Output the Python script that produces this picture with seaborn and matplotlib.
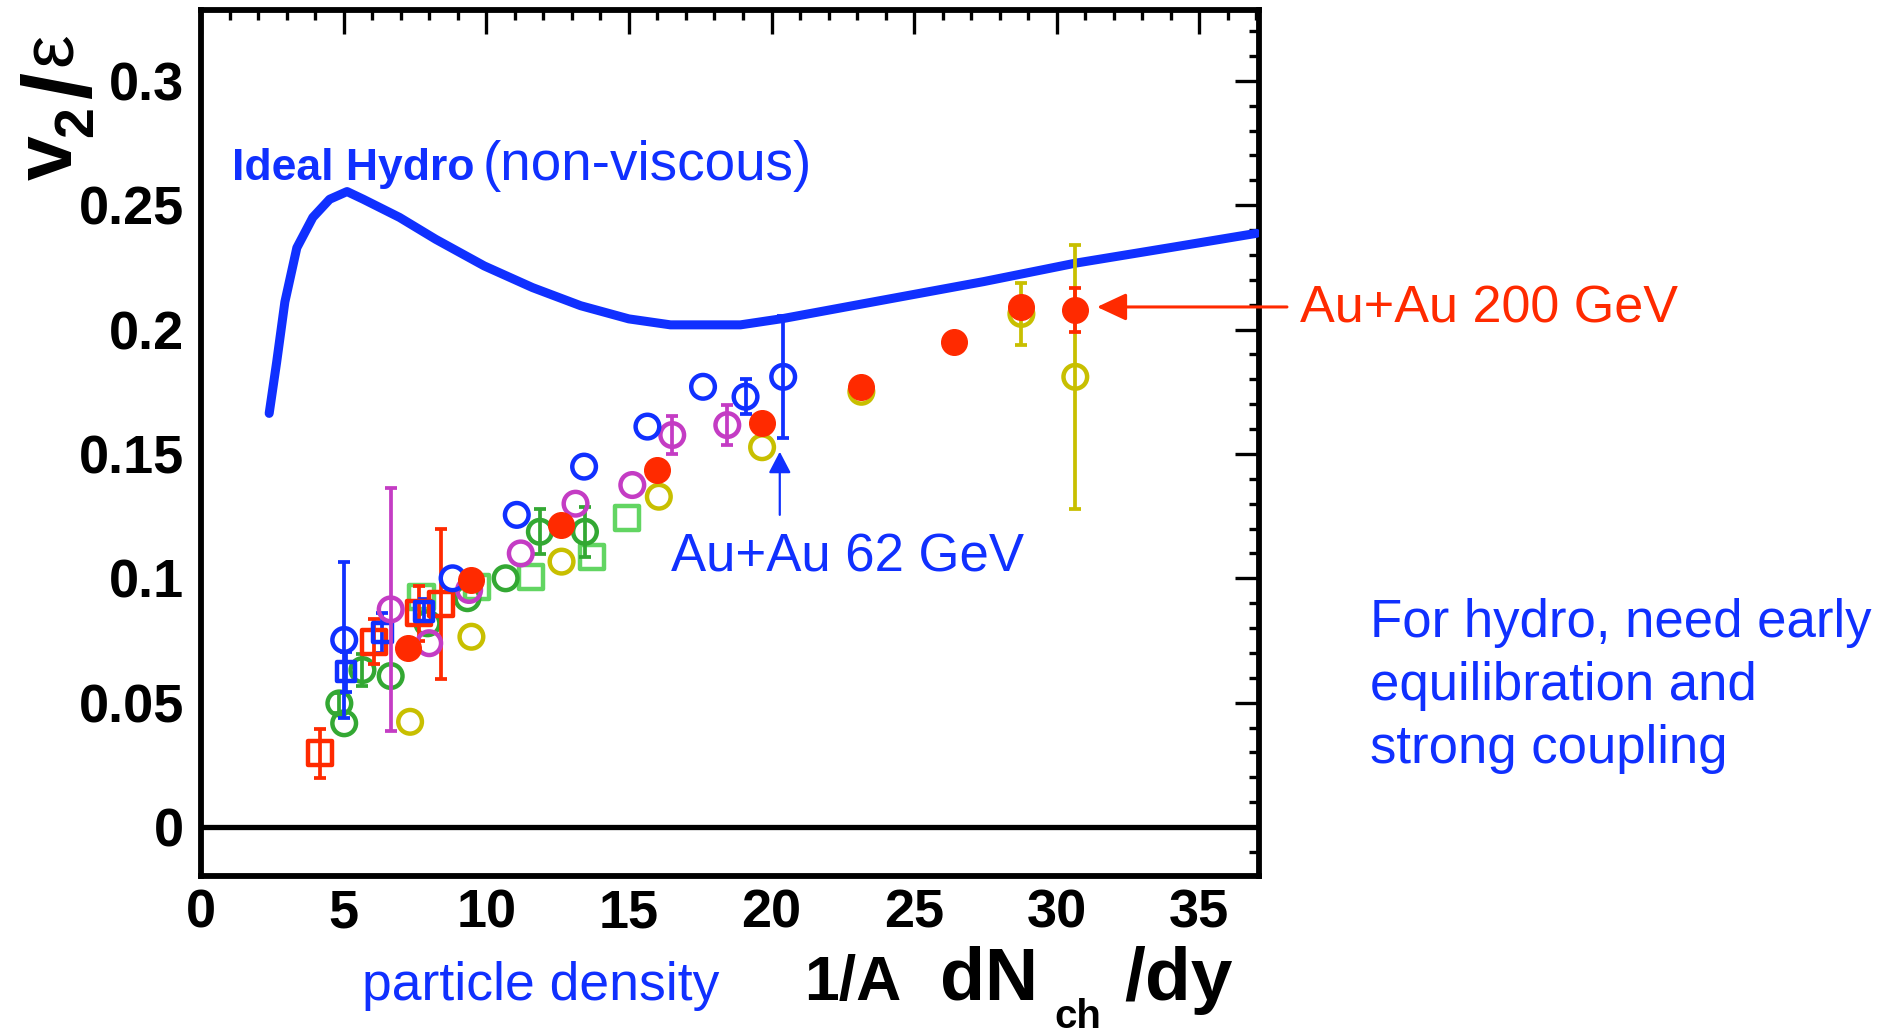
import matplotlib
matplotlib.use("Agg")
import matplotlib.pyplot as plt
import seaborn as sns
import pandas as pd
from matplotlib.ticker import MultipleLocator

# ---------------- data ----------------
hydro_x = [2.39, 2.65, 2.94, 3.36, 3.92, 4.51, 5.12, 5.69, 6.96, 8.23, 9.93, 11.62,
           13.31, 15.0, 16.46, 18.91, 20.43, 23.93, 27.44, 30.65, 34.0, 37.0]
hydro_y = [0.1663, 0.1867, 0.2111, 0.2329, 0.2451, 0.2524, 0.2555, 0.2524, 0.2451,
           0.2363, 0.2256, 0.2169, 0.2096, 0.2043, 0.2019, 0.2019, 0.2045, 0.2119,
           0.2193, 0.2267, 0.2330, 0.2387]

auau200_x = [7.24, 9.46, 12.61, 16.0, 19.67, 23.15, 26.4, 28.76, 30.65]
auau200_y = [0.0718, 0.0993, 0.1214, 0.1435, 0.1623, 0.177, 0.195, 0.2092, 0.2079]
auau200_e = [0, 0, 0, 0, 0, 0, 0, 0, 0.009]

yellow_x = [7.33, 9.48, 12.64, 16.05, 19.67, 23.15, 28.76, 30.65]
yellow_y = [0.0423, 0.0765, 0.1067, 0.1328, 0.1527, 0.175, 0.2063, 0.181]
yellow_e = [0, 0, 0, 0, 0, 0, 0.0124, 0.053]

auau62_x = [5.02, 8.82, 11.07, 13.43, 15.65, 17.6, 19.09, 20.41]
auau62_y = [0.0752, 0.100, 0.1255, 0.1449, 0.161, 0.177, 0.173, 0.181]
auau62_e = [0.0315, 0, 0, 0, 0, 0, 0.007, 0.0245]

magenta_x = [6.65, 8.0, 9.4, 11.21, 13.13, 15.12, 16.52, 18.45]
magenta_y = [0.0875, 0.0739, 0.0953, 0.110, 0.130, 0.1375, 0.1576, 0.1616]
magenta_e = [0.049, 0, 0, 0, 0, 0, 0.0075, 0.008]

green_x = [4.85, 5.02, 5.66, 6.65, 7.94, 9.34, 10.68, 11.88, 13.46]
green_y = [0.0497, 0.0417, 0.0631, 0.0607, 0.0819, 0.092, 0.100, 0.1187, 0.1187]
green_e = [0.004, 0, 0.0064, 0, 0, 0, 0, 0.009, 0.010]

lgsq_x = [7.73, 9.69, 11.56, 13.72, 14.95]
lgsq_y = [0.0926, 0.0966, 0.1006, 0.1087, 0.1241]
lgsq_e = [0, 0, 0, 0, 0]

redsq_x = [4.17, 6.07, 7.65, 8.41]
redsq_y = [0.0296, 0.0745, 0.0859, 0.0897]
redsq_e = [0.0099, 0.009, 0.011, 0.030]

bluesq_x = [5.08, 6.36, 7.82]
bluesq_y = [0.0624, 0.0781, 0.0866]
bluesq_e = [0.008, 0.008, 0.005]

x_ticks = [0, 5, 10, 15, 20, 25, 30, 35]
x_tick_labels = ["0", "5", "10", "15", "20", "25", "30", "35"]
y_ticks = [0, 0.05, 0.1, 0.15, 0.2, 0.25, 0.3]
y_tick_labels = ["0", "0.05", "0.1", "0.15", "0.2", "0.25", "0.3"]

# ---------------- style ----------------
BLUE = "#1030ff"
RED = "#ff2a00"
YELLOW = "#c8bf00"
MAGENTA = "#c43cc4"
GREEN = "#33a833"
LGREEN = "#62d562"

sns.set_theme(style="white")
plt.rcParams["font.family"] = ["Liberation Sans", "DejaVu Sans"]

W, H = 1895, 1034
fig = plt.figure(figsize=(W / 100, H / 100), dpi=100)
ax = fig.add_axes([201 / W, 1 - 875.5 / H, (1259 - 201) / W, (875.5 - 10) / H])

# hydro curve
hydro_df = pd.DataFrame({"x": hydro_x, "y": hydro_y})
sns.lineplot(data=hydro_df, x="x", y="y", ax=ax, color=BLUE, lw=6.5, sort=False,
             estimator=None, zorder=3, legend=False)

ax.axhline(0, color="black", lw=3.8, zorder=2)


def draw(xs, ys, es, color, marker, filled, size, z):
    ex = [x for x, e in zip(xs, es) if e > 0]
    ey = [y for y, e in zip(ys, es) if e > 0]
    ee = [e for e in es if e > 0]
    if ee:
        ax.errorbar(ex, ey, yerr=ee, fmt="none", ecolor=color, elinewidth=2.7,
                    capsize=4, capthick=2.7, zorder=z)
    df = pd.DataFrame({"x": xs, "y": ys})
    sns.scatterplot(data=df, x="x", y="y", ax=ax, marker=marker, s=size,
                    color=color, facecolor=color if filled else "none",
                    edgecolor=color, linewidth=1.0 if filled else 3.2,
                    zorder=z + 0.5, legend=False)


draw(lgsq_x, lgsq_y, lgsq_e, LGREEN, "s", False, 300, 4)
draw(green_x, green_y, green_e, GREEN, "o", False, 290, 5)
draw(redsq_x, redsq_y, redsq_e, RED, "s", False, 300, 6)
draw(bluesq_x, bluesq_y, bluesq_e, BLUE, "s", False, 180, 6.2)
draw(magenta_x, magenta_y, magenta_e, MAGENTA, "o", False, 290, 7)
draw(auau62_x, auau62_y, auau62_e, BLUE, "o", False, 290, 8)
draw(yellow_x, yellow_y, yellow_e, YELLOW, "o", False, 290, 9)
draw(auau200_x, auau200_y, auau200_e, RED, "o", True, 340, 10)

# axes
ax.set_xlim(0, 37.09)
ax.set_ylim(-0.0195, 0.3285)
ax.set_xlabel("")
ax.set_ylabel("")
ax.set_xticks(x_ticks)
ax.set_xticklabels(x_tick_labels, fontweight="bold", fontsize=39)
ax.set_yticks(y_ticks)
ax.set_yticklabels(y_tick_labels, fontweight="bold", fontsize=39)
ax.xaxis.set_minor_locator(MultipleLocator(1))
ax.yaxis.set_minor_locator(MultipleLocator(0.01))
ax.tick_params(which="major", direction="in", length=17, width=2.4, top=True,
               right=True, color="black", labelcolor="black")
ax.tick_params(axis="x", which="major", pad=9)
ax.tick_params(axis="y", which="major", pad=12)
ax.tick_params(which="minor", direction="in", length=7, width=2.4, top=True,
               right=True, color="black")
for s in ax.spines.values():
    s.set_linewidth(4.2)
    s.set_color("black")
    s.set_visible(True)

# arrows
ax.annotate("", xy=(31.41, 0.2091), xytext=(38.07, 0.2091),
            arrowprops=dict(arrowstyle="-|>,head_length=0.9,head_width=0.42",
                            mutation_scale=20, lw=2.2, color=RED,
                            shrinkA=0, shrinkB=0),
            annotation_clip=False, zorder=12)
ax.annotate("", xy=(20.29, 0.1509), xytext=(20.29, 0.1255),
            arrowprops=dict(arrowstyle="-|>,head_length=0.65,head_width=0.34",
                            mutation_scale=20, lw=1.6, color=BLUE,
                            shrinkA=0, shrinkB=0),
            annotation_clip=False, zorder=12)
for t in ax.texts:
    if t.arrow_patch is not None:
        t.arrow_patch.set_clip_on(False)


def ftext(x, y, s, **kw):
    fig.text(x / W, 1 - y / H, s, **kw)


# annotations
ftext(232, 180, "Ideal Hydro", color=BLUE, fontsize=32, fontweight="bold",
      ha="left", va="baseline")
ftext(483, 180, "(non-viscous)", color=BLUE, fontsize=39.5, ha="left", va="baseline")
ftext(1300, 323, "Au+Au 200 GeV", color=RED, fontsize=37.5, ha="left", va="baseline")
ftext(671, 572, "Au+Au 62 GeV", color=BLUE, fontsize=38, ha="left", va="baseline")
ftext(362, 1000, "particle density", color=BLUE, fontsize=38.5, ha="left", va="baseline")
ftext(1370, 637, "For hydro, need early", color=BLUE, fontsize=38, ha="left", va="baseline")
ftext(1370, 700, "equilibration and", color=BLUE, fontsize=38, ha="left", va="baseline")
ftext(1370, 763, "strong coupling", color=BLUE, fontsize=38, ha="left", va="baseline")

# x-axis title
ftext(804, 1000, "1/A", fontsize=45, fontweight="bold", ha="left", va="baseline", color="black")
ftext(940, 1000, "dN", fontsize=53, fontweight="bold", ha="left", va="baseline", color="black")
ftext(1054, 1028, "ch", fontsize=29, fontweight="bold", ha="left", va="baseline", color="black")
ftext(1124, 1000, "/dy", fontsize=54, fontweight="bold", ha="left", va="baseline", color="black")

# y-axis title (rotated pieces)
rot = dict(rotation=90, rotation_mode="anchor", ha="left", va="baseline", color="black")
ftext(72, 180, "v", fontsize=58, fontweight="bold", **rot)
ftext(92, 137, "2", fontsize=40, fontweight="bold", **rot)
ftext(90, 99, "/", fontsize=70, fontweight="bold", **rot)
ftext(72, 66, "\u03b5", fontsize=54, **rot)

fig.savefig("out.png", dpi=100)
